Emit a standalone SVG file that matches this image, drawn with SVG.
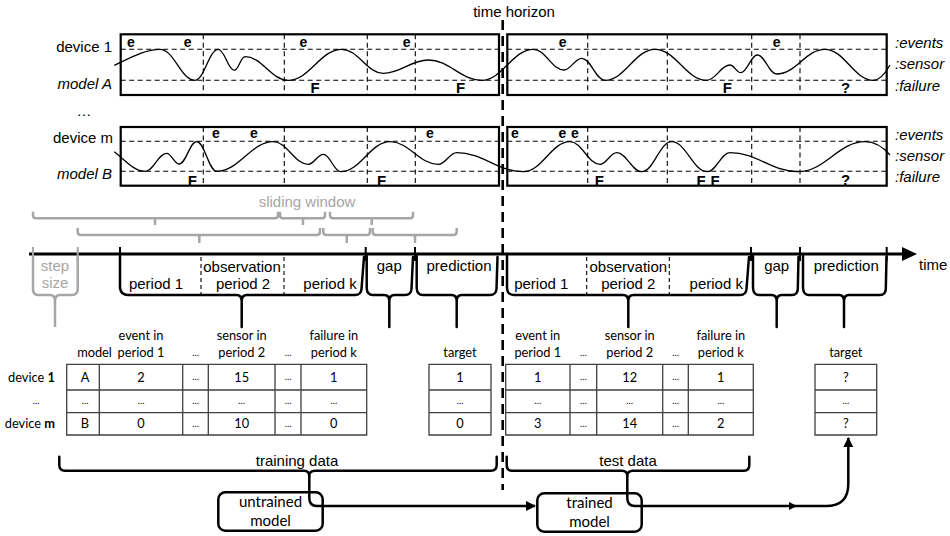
<svg xmlns="http://www.w3.org/2000/svg" width="950" height="536" viewBox="0 0 950 536">
<defs>
<style>
.lbl{font-family:"Liberation Sans",Arial,sans-serif;font-size:15px;fill:#000}
.it{font-style:italic}
.mid{text-anchor:middle}
.end{text-anchor:end}
.ev{font-family:"Liberation Sans",Arial,sans-serif;font-weight:bold;font-size:14px;text-anchor:middle}
.ff{font-family:"Liberation Sans",Arial,sans-serif;font-weight:bold;font-size:15px;text-anchor:middle}
.frame{fill:none;stroke:#000;stroke-width:2.2}
.grid{fill:none;stroke:#000;stroke-width:1.1;stroke-dasharray:5 3.5}
.wave{fill:none;stroke:#000;stroke-width:1.3}
.brace{fill:none;stroke:#000;stroke-width:2.5;stroke-linejoin:round;stroke-linecap:round}
.gbrace{fill:none;stroke:#a6a6a6;stroke-width:2.5;stroke-linejoin:round}
.gt{fill:#a6a6a6}
.tick{stroke:#000;stroke-width:2}
.pdiv{stroke:#000;stroke-width:1.1;stroke-dasharray:4 3}
.tbl{font-family:Lato,"Noto Sans",sans-serif;font-size:12.8px;text-anchor:middle;fill:#000}
.dots{font-family:Lato,"Noto Sans",sans-serif;font-size:9px;text-anchor:middle;fill:#000}
.cell{fill:none;stroke:#404040;stroke-width:1.3}
.box{fill:#fff;stroke:#000;stroke-width:2.5}
.btx{font-family:Lato,"Noto Sans",sans-serif;font-size:15px;text-anchor:middle;fill:#000}
.conn{fill:none;stroke:#000;stroke-width:2.5}
</style>
<marker id="arr" viewBox="0 0 10 10" refX="9" refY="5" markerWidth="4" markerHeight="4" orient="auto" markerUnits="strokeWidth">
<path d="M0,0 L10,5 L0,10 Z" fill="#000"/>
</marker>
</defs>

<text class="lbl mid" x="514" y="17">time horizon</text>

<g id="device1">
<text class="lbl end" x="112" y="52">device 1</text>
<text class="lbl it end" x="112" y="89">model A</text>
<rect class="frame" x="120.7" y="34.3" width="378.3" height="60.7"/>
<rect class="frame" x="507.3" y="34.3" width="379.4" height="60.7"/>
<path class="grid" d="M120.7,49.3H499M120.7,80.3H499M507.3,49.3H886.7M507.3,80.3H886.7M203.3,34.3V95M284.3,34.3V95M367.3,34.3V95M415.3,34.3V95M587.7,34.3V95M667.3,34.3V95M751.7,34.3V95M800,34.3V95"/>
<path class="wave" d="M114.3,65.3 C130,58 145,49.3 160,49.3 C174,49.3 181,80.3 195,80.3 C204.3,80.3 209,49.3 218.3,49.3 C224.7,49.3 227.9,70.3 234.3,70.3 C238.6,70.3 240.7,56.7 245,56.7 C262.3,56.7 271,80.3 288.3,80.3 C309.7,80.3 320.3,49.3 341.7,49.3 C358.3,49.3 366.7,73.3 383.3,73.3 C401.3,73.3 410.3,60 428.3,60 C449.7,60 460.3,80.3 481.7,80.3 C502.3,80.3 512.7,49.3 533.3,49.3 C545.6,49.3 551.7,70 564,70 C571.1,70 574.6,58.3 581.7,58.3 C591,58.3 595.7,80.3 605,80.3 C625,80.3 635,49.3 655,49.3 C675.7,49.3 686,80.3 706.7,80.3 C716,80.3 720.7,65 730,65 C734.3,65 736.4,72.7 740.7,72.7 C747.3,72.7 750.7,55 757.3,55 C765.1,55 768.9,74 776.7,74 C796,74 805.7,49.3 825,49.3 C844.3,49.3 854,80.3 873.3,80.3 C880,80.3 885,74 890,65"/>
<text class="ev" x="131" y="46.5">e</text>
<text class="ev" x="187.7" y="46.5">e</text>
<text class="ev" x="303.3" y="46.5">e</text>
<text class="ev" x="406.7" y="46.5">e</text>
<text class="ev" x="562.7" y="46.5">e</text>
<text class="ev" x="776.7" y="46.5">e</text>
<text class="ff" x="315" y="93">F</text>
<text class="ff" x="460.7" y="93">F</text>
<text class="ff" x="727.3" y="93">F</text>
<text class="ff" x="845.7" y="93">?</text>
<text class="lbl it" x="895" y="48.3">:events</text>
<text class="lbl it" x="895" y="69">:sensor</text>
<text class="lbl it" x="895" y="90.7">:failure</text>
</g>

<text class="lbl mid" x="84" y="116">…</text>

<g id="deviceM">
<text class="lbl end" x="113" y="143">device m</text>
<text class="lbl it end" x="112" y="179">model B</text>
<rect class="frame" x="120.7" y="127" width="378.3" height="58.7"/>
<rect class="frame" x="507.3" y="127" width="379.4" height="58.7"/>
<path class="grid" d="M120.7,141.3H499M120.7,171.3H499M507.3,141.3H886.7M507.3,171.3H886.7M203.3,127V185.7M284.3,127V185.7M367.3,127V185.7M415.3,127V185.7M587.7,127V185.7M667.3,127V185.7M751.7,127V185.7M800,127V185.7"/>
<path class="wave" d="M114.3,151.7 C125,160 134,171.3 145,171.3 C153.7,171.3 158,153.3 166.7,153.3 C171.6,153.3 174.1,164 179,164 C186.1,164 189.6,141.7 196.7,141.7 C204.7,141.7 208.7,171.3 216.7,171.3 C239.3,171.3 250.7,141.7 273.3,141.7 C287.3,141.7 294.3,164.3 308.3,164.3 C314.3,164.3 317.3,154.3 323.3,154.3 C330.3,154.3 333.7,171.7 340.7,171.7 C360.4,171.7 370.3,141.7 390,141.7 C409.3,141.7 419,164.3 438.3,164.3 C445.7,164.3 449.3,152.7 456.7,152.7 C483.3,152.7 496.7,171.7 523.3,171.7 C542,171.7 551.3,141.7 570,141.7 C582,141.7 588,164.3 600,164.3 C606.7,164.3 610,152.7 616.7,152.7 C626.7,152.7 631.7,171.7 641.7,171.7 C653.7,171.7 659.7,141.7 671.7,141.7 C685.9,141.7 693.1,171.7 707.3,171.7 C716.4,171.7 720.9,152.7 730,152.7 C757.3,152.7 771,171.7 798.3,171.7 C825,171.7 838.3,141.7 865,141.7 C875,141.7 883,147 890,155"/>
<text class="ev" x="216" y="138">e</text>
<text class="ev" x="254" y="138">e</text>
<text class="ev" x="430" y="138">e</text>
<text class="ev" x="515" y="138">e</text>
<text class="ev" x="562.3" y="138">e</text>
<text class="ev" x="575" y="138">e</text>
<text class="ff" x="192.3" y="185.5">F</text>
<text class="ff" x="381.7" y="185.5">F</text>
<text class="ff" x="599.3" y="185.5">F</text>
<text class="ff" x="701" y="185.5">F</text>
<text class="ff" x="715" y="185.5">F</text>
<text class="ff" x="845.7" y="185">?</text>
<text class="lbl it" x="895" y="140">:events</text>
<text class="lbl it" x="895" y="160.7">:sensor</text>
<text class="lbl it" x="895" y="181.7">:failure</text>
</g>

<g id="sliding-window">
<text class="lbl mid gt" x="307" y="207">sliding window</text>
<path class="gbrace" d="M33,211.7V215Q33,218.3 36,218.3H275Q278,218.3 278,215V211.7M155,218.3V225"/>
<path class="gbrace" d="M280,211.7V215Q280,218.3 283,218.3H322Q325,218.3 325,215V211.7M303,218.3V225"/>
<path class="gbrace" d="M330,211.7V215Q330,218.3 333,218.3H410Q413,218.3 413,215V211.7M371.7,218.3V225"/>
<path class="gbrace" d="M77.7,228V231.5Q77.7,235 81,235H317Q320,235 320,231.5V228M199.3,235V243"/>
<path class="gbrace" d="M323.3,228V231.5Q323.3,235 326.5,235H367Q370,235 370,231.5V228M346.7,235V243"/>
<path class="gbrace" d="M372.7,228V231.5Q372.7,235 376,235H453.5Q456.7,235 456.7,231.5V228M415,235V243"/>
</g>

<g id="timeline">
<line x1="29" y1="254" x2="906" y2="254" stroke="#000" stroke-width="3"/>
<polygon points="902,247 917,254 902,261" fill="#000"/>
<text class="lbl" x="919" y="270">time</text>
<path stroke="#a6a6a6" stroke-width="2" d="M33,247V261M77.7,247V261"/>
<path class="tick" d="M120,247V261M365.7,247V261M415,247V261M751,247V261M800,247V261M886.7,247V261"/>
<path class="gbrace" d="M33,257V289Q33,295 38,295H50Q55,295 55,301V327M55,301Q55,295 60,295H72Q77.7,295 77.7,289V257"/>
<text class="lbl mid gt" x="55" y="271">step</text>
<text class="lbl mid gt" x="55" y="288">size</text>
<path class="pdiv" d="M201,257V295M284,257V295M586.7,257V295M669.3,257V295"/>
<path class="brace" d="M120,256V288Q121,295 128,295H236.5Q241.7,295 241.7,301V327M241.7,301Q241.7,295 247,295H355Q361,295 361.5,289L364,257"/>
<path class="brace" d="M366.7,256V288Q367,295 373,295H384Q389.3,295 389.3,301V327M389.3,301Q389.3,295 394.5,295H405Q411,295 411.5,289L413,257"/>
<path class="brace" d="M416.7,256V288Q417,295 423,295H451.5Q456.7,295 456.7,301V327M456.7,301Q456.7,295 462,295H490Q496,295 496.5,289L497.5,257"/>
<path class="brace" d="M507,256V288Q507.5,295 514,295H623Q628.3,295 628.3,301V327M628.3,301Q628.3,295 633.5,295H740Q746,295 746.5,289L749,257"/>
<path class="brace" d="M753,256V288Q753.5,295 759,295H771.5Q776.7,295 776.7,301V327M776.7,301Q776.7,295 782,295H792Q797.5,295 797.8,289L798.5,257"/>
<path class="brace" d="M803,256V288Q803.5,295 809,295H839Q844,295 844,301V327M844,301Q844,295 849,295H880Q885.5,295 885.8,289L886.5,257"/>
<text class="lbl mid" x="242" y="272">observation</text>
<text class="lbl mid" x="156" y="289">period 1</text>
<text class="lbl mid" x="243" y="289">period 2</text>
<text class="lbl mid" x="330" y="289">period k</text>
<text class="lbl mid" x="389.3" y="271">gap</text>
<text class="lbl mid" x="459" y="271">prediction</text>
<text class="lbl mid" x="628.3" y="272">observation</text>
<text class="lbl mid" x="541.3" y="289">period 1</text>
<text class="lbl mid" x="628.3" y="289">period 2</text>
<text class="lbl mid" x="716.3" y="289">period k</text>
<text class="lbl mid" x="776.7" y="271">gap</text>
<text class="lbl mid" x="846.3" y="271">prediction</text>
</g>

<line id="time-horizon" x1="502.7" y1="20" x2="502.7" y2="490" stroke="#000" stroke-width="2.6" stroke-dasharray="10 6"/>

<g id="training-table">
<text class="tbl" x="94.5" y="356.7">model</text>
<text class="tbl" x="141" y="340">event in</text>
<text class="tbl" x="141" y="356.7">period 1</text>
<text class="dots" x="195.5" y="356">…</text>
<text class="tbl" x="241.7" y="340">sensor in</text>
<text class="tbl" x="241.7" y="356.7">period 2</text>
<text class="dots" x="288" y="356">…</text>
<text class="tbl" x="333.8" y="340">failure in</text>
<text class="tbl" x="333.8" y="356.7">period k</text>
<text class="tbl" x="460" y="356.7">target</text>
<text class="tbl" x="55" y="381.5" style="text-anchor:end">device <tspan font-weight="bold">1</tspan></text>
<text class="dots" x="36" y="404">…</text>
<text class="tbl" x="55" y="428" style="text-anchor:end">device <tspan font-weight="bold">m</tspan></text>
<path class="cell" d="M66.7,364.3H366.7V435H66.7ZM66.7,390H366.7M66.7,412.7H366.7M99.3,364.3V435M182.7,364.3V435M208.3,364.3V435M275,364.3V435M301,364.3V435"/>
<path class="cell" d="M429,364.3H491V435H429ZM429,390H491M429,412.7H491"/>
<text class="tbl" x="85" y="381.5">A</text>
<text class="tbl" x="141" y="381.5">2</text>
<text class="dots" x="195.5" y="380">…</text>
<text class="tbl" x="241.7" y="381.5">15</text>
<text class="dots" x="288" y="380">…</text>
<text class="tbl" x="333.8" y="381.5">1</text>
<text class="dots" x="85" y="404">…</text>
<text class="dots" x="141" y="404">…</text>
<text class="dots" x="195.5" y="404">…</text>
<text class="dots" x="241.7" y="404">…</text>
<text class="dots" x="288" y="404">…</text>
<text class="dots" x="333.8" y="404">…</text>
<text class="tbl" x="85" y="428">B</text>
<text class="tbl" x="141" y="428">0</text>
<text class="dots" x="195.5" y="427">…</text>
<text class="tbl" x="241.7" y="428">10</text>
<text class="dots" x="288" y="427">…</text>
<text class="tbl" x="333.8" y="428">0</text>
<text class="tbl" x="460" y="381.5">1</text>
<text class="dots" x="460" y="404">…</text>
<text class="tbl" x="460" y="428">0</text>
</g>

<g id="test-table">
<text class="tbl" x="537.8" y="340">event in</text>
<text class="tbl" x="537.8" y="356.7">period 1</text>
<text class="dots" x="583.3" y="356">…</text>
<text class="tbl" x="629.7" y="340">sensor in</text>
<text class="tbl" x="629.7" y="356.7">period 2</text>
<text class="dots" x="675.5" y="356">…</text>
<text class="tbl" x="720.8" y="340">failure in</text>
<text class="tbl" x="720.8" y="356.7">period k</text>
<text class="tbl" x="845.8" y="356.7">target</text>
<path class="cell" d="M505.7,364.3H753.3V435H505.7ZM505.7,390H753.3M505.7,412.7H753.3M570,364.3V435M596.7,364.3V435M662.7,364.3V435M688.3,364.3V435"/>
<path class="cell" d="M815,364.3H876.7V435H815ZM815,390H876.7M815,412.7H876.7"/>
<text class="tbl" x="537.8" y="381.5">1</text>
<text class="dots" x="583.3" y="380">…</text>
<text class="tbl" x="629.7" y="381.5">12</text>
<text class="dots" x="675.5" y="380">…</text>
<text class="tbl" x="720.8" y="381.5">1</text>
<text class="dots" x="537.8" y="404">…</text>
<text class="dots" x="583.3" y="404">…</text>
<text class="dots" x="629.7" y="404">…</text>
<text class="dots" x="675.5" y="404">…</text>
<text class="dots" x="720.8" y="404">…</text>
<text class="tbl" x="537.8" y="428">3</text>
<text class="dots" x="583.3" y="427">…</text>
<text class="tbl" x="629.7" y="428">14</text>
<text class="dots" x="675.5" y="427">…</text>
<text class="tbl" x="720.8" y="428">2</text>
<text class="tbl" x="845.8" y="381.5">?</text>
<text class="dots" x="845.8" y="404">…</text>
<text class="tbl" x="845.8" y="428">?</text>
</g>

<g id="data-braces">
<text class="lbl mid" x="297" y="466">training data</text>
<text class="lbl mid" x="628" y="466">test data</text>
<path class="brace" d="M59.3,456.7V465Q59.3,470.7 65,470.7H304Q309.3,470.7 309.3,476M309.3,476Q309.3,470.7 315,470.7H491Q496.7,470.7 496.7,465V456.7"/>
<path class="brace" d="M506.7,456.7V465Q506.7,470.7 512,470.7H622Q627.3,470.7 627.3,476M627.3,476Q627.3,470.7 633,470.7H744Q749.3,470.7 749.3,465V456.7"/>
</g>

<g id="untrained-model">
<rect class="box" x="218.3" y="492.3" width="104.4" height="38.4" rx="7"/>
<text class="btx" x="270.5" y="507">untrained</text>
<text class="btx" x="270.5" y="525.5">model</text>
</g>

<g id="trained-model">
<rect class="box" x="537.3" y="493.3" width="104.4" height="38.4" rx="7"/>
<text class="btx" x="589.5" y="508">trained</text>
<text class="btx" x="589.5" y="526.5">model</text>
</g>

<g id="connectors">
<path class="conn" d="M309.3,476V498Q309.3,506 317,506H535" marker-end="url(#arr)"/>
<path class="conn" d="M627.3,476V498Q627.3,506 635,506H826Q848.3,506 848.3,484V438" marker-end="url(#arr)"/>
<path d="M789,502 L797,506 L789,510 Z" fill="#000"/>
</g>
</svg>
